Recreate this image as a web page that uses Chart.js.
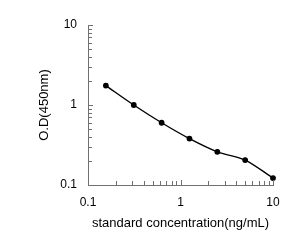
<!DOCTYPE html>
<html>
<head>
<meta charset="utf-8">
<script src="https://cdn.jsdelivr.net/npm/chart.js@4/dist/chart.umd.min.js"></script>
<style>
  html, body { margin: 0; padding: 0; background: #fff; }
  #wrap { width: 299px; height: 244px; }
</style>
</head>
<body>
<div id="wrap"><canvas id="chart"></canvas></div>
<script>
// standard curve values
const concentration = [0.156, 0.3125, 0.625, 1.25, 2.5, 5, 10];
const od450 = [1.75, 1.0, 0.6, 0.38, 0.26, 0.205, 0.122];
const tickLabels = [0.1, 1, 10];
// minor tick positions for each decade
const minorSteps = [1, 2, 3, 4, 5, 6, 7, 8, 9];
const decades = [0.1, 1];

const axisGray = '#707070';

// inward tick marks, placed through the scales
const innerTicks = {
    id: 'innerTicks',
    afterDraw(chart) {
        const { ctx, chartArea, scales } = chart;
        const vals = [];
        decades.forEach(d => minorSteps.forEach(m => vals.push(d * m)));
        vals.push(10);
        ctx.save();
        ctx.strokeStyle = axisGray;
        ctx.lineWidth = 1;
        ctx.beginPath();
        vals.forEach(v => {
            if (v <= 0.1 + 1e-9) return;
            const major = tickLabels.some(t => Math.abs(t - v) < 1e-9);
            const len = major ? 5 : 4;
            const px = Math.round(scales.x.getPixelForValue(v)) + 0.5;
            ctx.moveTo(px, chartArea.bottom);
            ctx.lineTo(px, chartArea.bottom - len);
            const py = Math.round(scales.y.getPixelForValue(v)) + 0.5;
            ctx.moveTo(chartArea.left, py);
            ctx.lineTo(chartArea.left + len, py);
        });
        ctx.stroke();
        ctx.restore();
    }
};

new Chart(document.getElementById('chart'), {
    type: 'line',
    data: {
        datasets: [{
            data: concentration.map((c, i) => ({ x: c, y: od450[i] })),
            borderColor: '#000',
            backgroundColor: '#000',
            borderWidth: 1.4,
            pointRadius: 2.2,
            tension: 0.3,
            clip: false
        }]
    },
    options: {
        responsive: true,
        maintainAspectRatio: false,
        animation: false,
        layout: { padding: { top: 25, right: 26, left: 0, bottom: 0 } },
        plugins: { legend: { display: false }, tooltip: { enabled: false } },
        scales: {
            x: {
                type: 'logarithmic',
                min: 0.1,
                max: 10,
                afterFit: s => { s.height = 59; },
                grid: { display: false, drawTicks: false },
                border: { display: true, color: axisGray, width: 1 },
                ticks: {
                    color: '#000',
                    font: { family: 'Liberation Sans', size: 12 },
                    padding: 10,
                    autoSkip: false,
                    maxRotation: 0,
                    callback: v => tickLabels.includes(v) ? String(v) : ''
                },
                title: {
                    display: true,
                    text: 'standard concentration(ng/mL)',
                    color: '#000',
                    font: { family: 'Liberation Sans', size: 13 },
                    padding: { top: 0, bottom: 13 }
                }
            },
            y: {
                type: 'logarithmic',
                min: 0.1,
                max: 10,
                afterFit: s => { s.width = 88; },
                grid: { display: false, drawTicks: false },
                border: { display: true, color: axisGray, width: 1 },
                ticks: {
                    color: '#000',
                    font: { family: 'Liberation Sans', size: 12 },
                    padding: 11,
                    autoSkip: false,
                    callback: v => tickLabels.includes(v) ? String(v) : ''
                },
                title: {
                    display: true,
                    text: 'O.D(450nm)',
                    color: '#000',
                    font: { family: 'Liberation Sans', size: 13 },
                    padding: { top: 37, bottom: 0 }
                }
            }
        }
    },
    plugins: [innerTicks]
});
</script>
</body>
</html>
